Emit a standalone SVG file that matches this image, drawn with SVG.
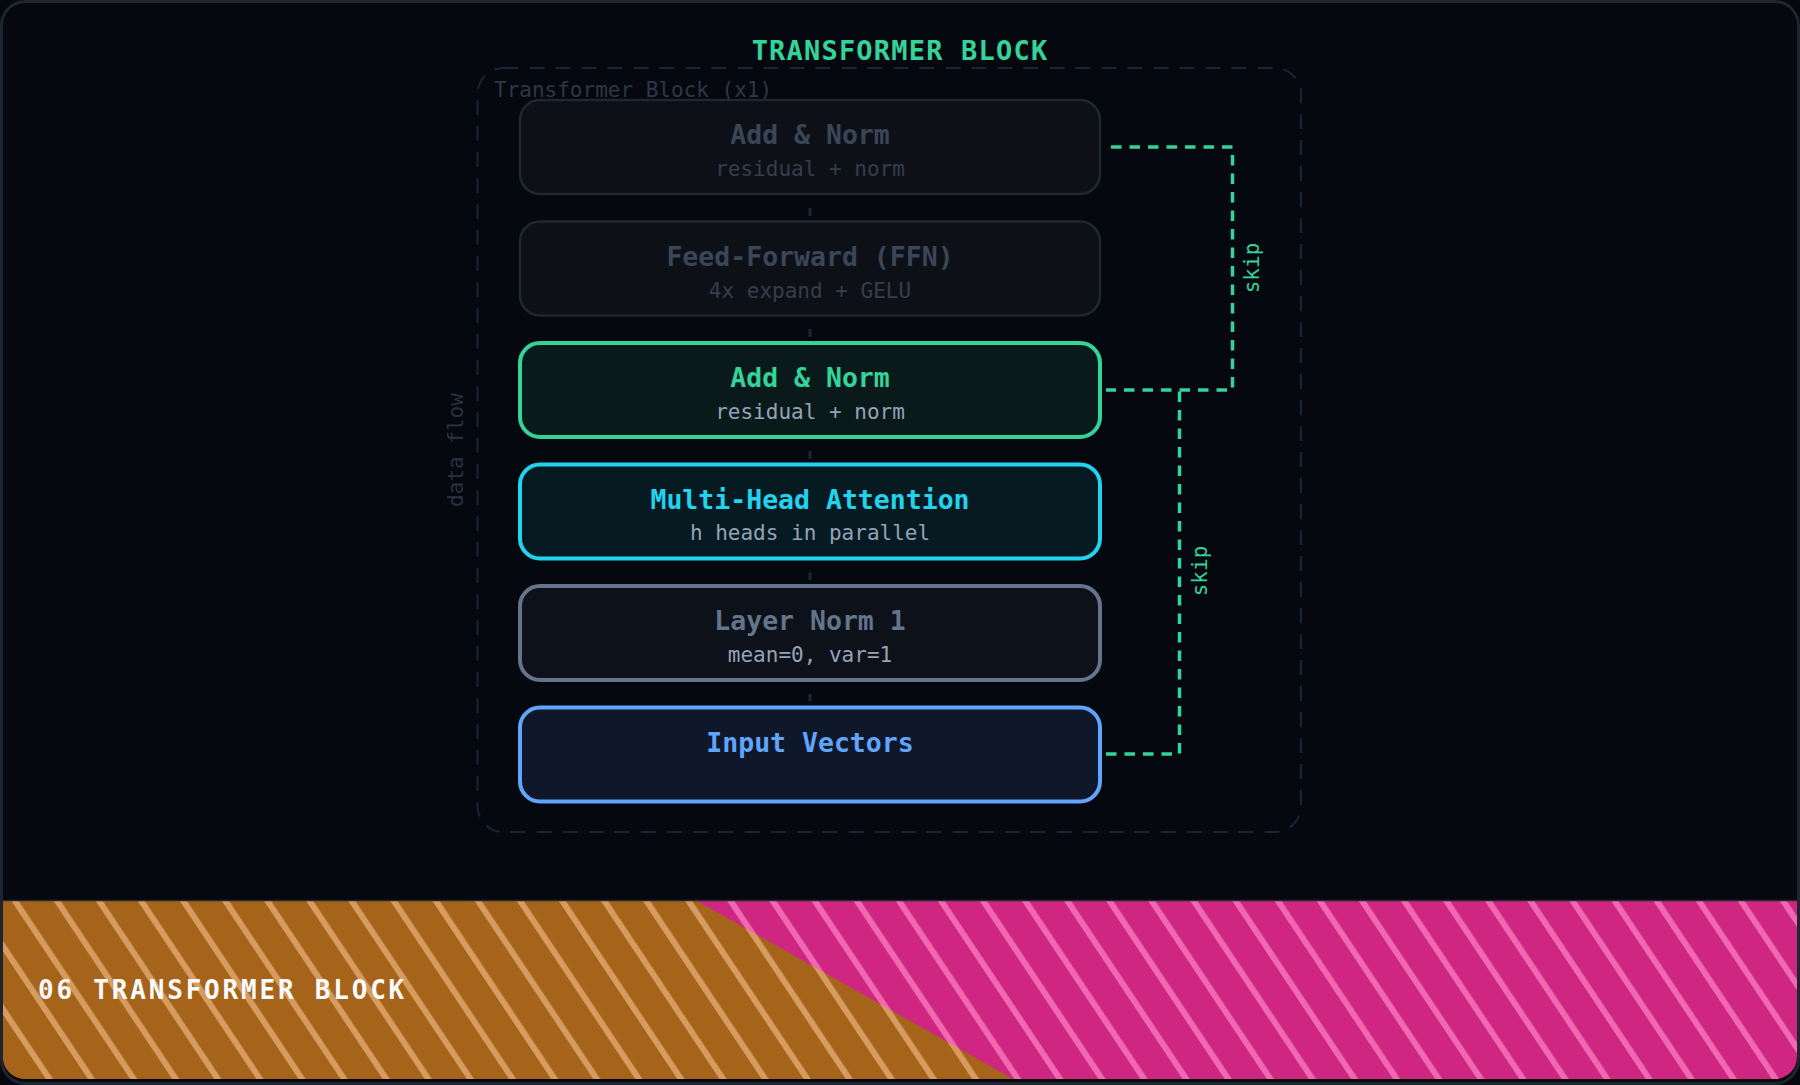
<svg xmlns="http://www.w3.org/2000/svg" width="1800" height="1085" viewBox="0 0 1800 1085">
<defs>
<style>
text{font-family:"DejaVu Sans Mono","Liberation Mono",monospace}
.t{font-size:26.5px;font-weight:bold;text-anchor:middle}
.s{font-size:21px;text-anchor:middle}
.skip{fill:none;stroke:#34d399;stroke-width:3.5;stroke-dasharray:10.5 8}
.flow{stroke:#1a2638;stroke-width:3}
.dim rect{fill:#0d1117;stroke:#1f2731;stroke-width:2.5}
.dim .t{fill:#3a4658}
.dim .s{fill:#343e4d}
.act .s{fill:#94a3b8}
.lbl{font-size:21px;fill:#34d399;text-anchor:middle}
</style>
<pattern id="po" patternUnits="userSpaceOnUse" width="35.03" height="20" patternTransform="translate(11.4,901) rotate(-33.69)">
<rect width="35.03" height="20" fill="#a6641a"/>
<rect width="6" height="20" fill="#d59b5f"/>
</pattern>
<pattern id="pp" patternUnits="userSpaceOnUse" width="35.03" height="20" patternTransform="translate(11.4,901) rotate(-33.69)">
<rect width="35.03" height="20" fill="#cf2682"/>
<rect width="6" height="20" fill="#f068b0"/>
</pattern>
<clipPath id="band"><path d="M3,901 H1797 V1057 A22,22 0 0 1 1775,1079 H25 A22,22 0 0 1 3,1057 Z"/></clipPath>
</defs>

<rect x="0" y="0" width="1800" height="1085" fill="#05080f"/>
<rect x="1.5" y="1.5" width="1797" height="1082" rx="24" fill="#05080f" stroke="#1f252e" stroke-width="3"/>

<g id="footer" clip-path="url(#band)">
<rect x="0" y="895" width="1800" height="190" fill="url(#pp)"/>
<polygon points="0,901 697,901 1013,1079 1013,1085 0,1085" fill="url(#po)"/>
</g>
<line x1="3" y1="900.5" x2="1797" y2="900.5" stroke="#232a33" stroke-width="1.5"/>
<text x="38" y="999" fill="#f8fafc" font-size="26" font-weight="bold" letter-spacing="2.8">06 TRANSFORMER BLOCK</text>

<text x="900" y="60" fill="#34d399" font-size="27" font-weight="bold" letter-spacing="1.2" text-anchor="middle">TRANSFORMER BLOCK</text>

<g id="container">
<rect x="477.5" y="68" width="823.5" height="764" rx="26" fill="none" stroke="#182536" stroke-width="2" stroke-dasharray="15 11"/>
<text x="494" y="96.5" font-size="21" fill="#2c3748">Transformer Block (x1)</text>
<text transform="translate(463,450) rotate(-90)" font-size="21" fill="#283242" text-anchor="middle">data flow</text>
</g>

<g id="connectors">
<line class="flow" x1="810" y1="208" x2="810" y2="216"/>
<line class="flow" x1="810" y1="329" x2="810" y2="337"/>
<line class="flow" x1="810" y1="451" x2="810" y2="459"/>
<line class="flow" x1="810" y1="572.5" x2="810" y2="580"/>
<line class="flow" x1="810" y1="694" x2="810" y2="701.5"/>
<path class="skip" d="M1111,147 H1232.5 V390 H1106"/>
<path class="skip" d="M1106,754 H1179.5 V390"/>
<text class="lbl" transform="translate(1259,268) rotate(-90)">skip</text>
<text class="lbl" transform="translate(1207,571) rotate(-90)">skip</text>
</g>

<g id="node-addnorm2" class="dim">
<rect x="520" y="100" width="580" height="94" rx="20"/>
<text class="t" x="810" y="144">Add &amp; Norm</text>
<text class="s" x="810" y="176">residual + norm</text>
</g>

<g id="node-ffn" class="dim">
<rect x="520" y="221.5" width="580" height="94" rx="20"/>
<text class="t" x="810" y="265.5">Feed-Forward (FFN)</text>
<text class="s" x="810" y="297.5">4x expand + GELU</text>
</g>

<g id="node-addnorm1" class="act">
<rect x="520" y="343" width="580" height="94" rx="20" fill="#0a1a1b" stroke="#34d399" stroke-width="4"/>
<text class="t" x="810" y="387" fill="#34d399">Add &amp; Norm</text>
<text class="s" x="810" y="419">residual + norm</text>
</g>

<g id="node-mha" class="act">
<rect x="520" y="464.5" width="580" height="94" rx="20" fill="#061a22" stroke="#22d3ee" stroke-width="4"/>
<text class="t" x="810" y="508.5" fill="#22d3ee">Multi-Head Attention</text>
<text class="s" x="810" y="540">h heads in parallel</text>
</g>

<g id="node-layernorm" class="act">
<rect x="520" y="586" width="580" height="94" rx="20" fill="#0d111a" stroke="#64748b" stroke-width="4"/>
<text class="t" x="810" y="630" fill="#64748b">Layer Norm 1</text>
<text class="s" x="810" y="661.5">mean=0, var=1</text>
</g>

<g id="node-input" class="act">
<rect x="520" y="707.5" width="580" height="94" rx="20" fill="#0f172a" stroke="#60a5fa" stroke-width="4"/>
<text class="t" x="810" y="751.5" fill="#60a5fa">Input Vectors</text>
</g>
</svg>
